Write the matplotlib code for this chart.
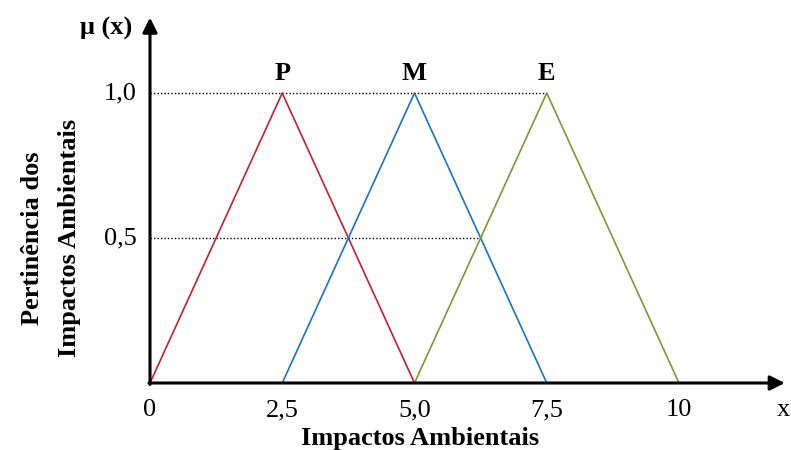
import matplotlib
matplotlib.use("Agg")
import matplotlib.pyplot as plt

plt.rcParams['font.family'] = ['Liberation Serif', 'DejaVu Serif']

# funcoes de pertinencia triangulares (x, mu)
nomes = ['P', 'M', 'E']
cores = ['#C8202C', '#1C73C4', '#7A9A34']
x_p = [0, 2.5, 5.0]
x_m = [2.5, 5.0, 7.5]
x_e = [5.0, 7.5, 10]
mu = [0, 1, 0]
xticks = [0, 2.5, 5.0, 7.5, 10]
xticklabels = ['0', '2,5', '5,0', '7,5', '10']
yticks = [0.5, 1.0]
yticklabels = ['0,5', '1,0']
cruz_me = 6.25  # cruzamento M/E em 0,5

fig = plt.figure(figsize=(7.91, 4.5), dpi=100)
ax = fig.add_axes([0, 0, 1, 1])
# escala: 52.9 px por unidade em x, 290 px por unidade em y, origem em (150, 383)
ax.set_xlim(-150 / 52.9, (791 - 150) / 52.9)
ax.set_ylim(-(450 - 383) / 290, 383 / 290)
ax.axis('off')

for xs, c in zip([x_p, x_m, x_e], cores):
    ax.plot(xs, mu, color=c, lw=1.2, zorder=3)

# linhas pontilhadas
ax.plot([0, x_e[1]], [1.0, 1.0], color='black', lw=1, ls=(0, (1, 1.5)), zorder=2)
ax.plot([0, cruz_me], [0.5, 0.5], color='black', lw=1, ls=(0, (1, 1.5)), zorder=2)

# eixos com setas
ax.annotate('', xy=(12.0, 0), xytext=(-0.02, 0),
            arrowprops=dict(arrowstyle='-|>', color='black', lw=2.2,
                            mutation_scale=22, shrinkA=0, shrinkB=0))
ax.annotate('', xy=(0, 1.26), xytext=(0, -0.005),
            arrowprops=dict(arrowstyle='-|>', color='black', lw=2.2,
                            mutation_scale=22, shrinkA=0, shrinkB=0))

fs = 19
for xt, lab in zip(xticks, xticklabels):
    ax.text(xt, -0.093, lab, ha='center', va='center', fontsize=fs)
for yt, lab in zip(yticks, yticklabels):
    ax.text(-0.25, yt, lab, ha='right', va='center', fontsize=fs)

for xs, n in zip([x_p, x_m, x_e], nomes):
    ax.text(xs[1], 1.066, n, ha='center', va='center', fontsize=fs, fontweight='bold')

ax.text(11.98, -0.093, 'x', ha='center', va='center', fontsize=fs)
ax.text(-0.34, 1.224, 'μ (x)', ha='right', va='center', fontsize=fs, fontweight='bold')
ax.text(5.1, -0.19, 'Impactos Ambientais', ha='center', va='center', fontsize=fs, fontweight='bold')
ax.text(-1.87, 0.5, 'Pertinência dos\nImpactos Ambientais', ha='center', va='center',
        rotation=90, fontsize=fs, fontweight='bold', linespacing=1.8)

fig.savefig('out.png', dpi=100)
